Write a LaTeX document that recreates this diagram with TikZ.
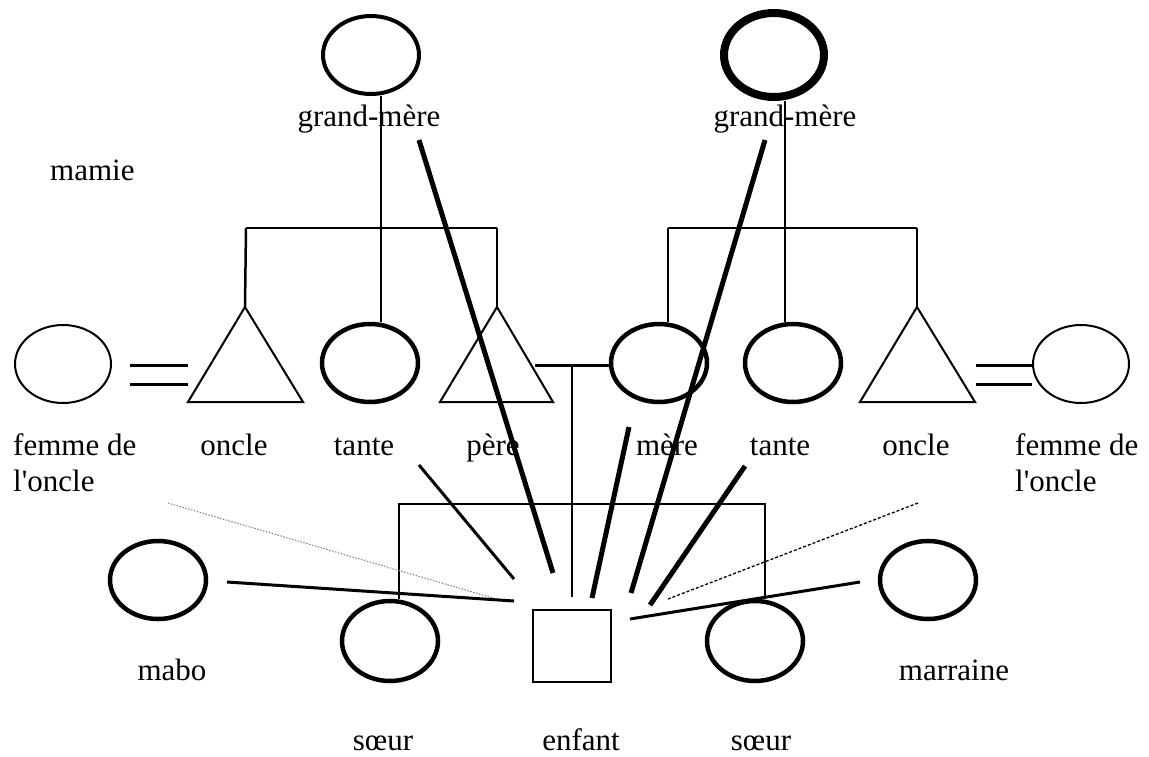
\documentclass[tikz,border=0pt]{standalone}
\usepackage{fontspec}
\newfontfamily\libserif{Liberation Serif}
\usetikzlibrary{shapes.geometric}
\begin{document}
\begin{tikzpicture}[x=1pt,y=-1pt,
  lbl/.style={anchor=base,inner sep=0pt,font=\libserif\fontsize{31}{36}\selectfont},
  lbll/.style={anchor=base west,inner sep=0pt,font=\libserif\fontsize{31}{36}\selectfont,align=left},
  person/.style={ellipse,draw,line width=4.5pt,inner sep=0pt,minimum width=96pt,minimum height=78pt},
  thinperson/.style={ellipse,draw,line width=2pt,inner sep=0pt,minimum width=96pt,minimum height=78pt},
  struct/.style={line width=2.5pt},
  thinshape/.style={line width=2pt,line join=miter},
  ray/.style={line width=5pt},
  midray/.style={line width=3pt}]
\useasboundingbox (0,0) rectangle (1149,756);

% grandmothers
\node[person,line width=4pt] (gmL) at (371,55) {};
\node[person,line width=8pt,minimum width=100pt,minimum height=84pt] (gmR) at (774,55) {};
\node[lbl] (tgmL) at (369,126) {grand-mère};
\node[lbl] (tgmR) at (785,126) {grand-mère};
\node[lbll] (tmamie) at (50,180) {mamie};

% parent row
\node[thinperson] (femL) at (63,364) {};
\node[person] (tanL) at (370,363) {};
\node[person] (mere) at (659,363) {};
\node[person] (tanR) at (793,363) {};
\node[thinperson] (femR) at (1081,364) {};

\coordinate (onLtop) at (245,307);
\draw[thinshape] (onLtop) -- (188,402) -- (303,402) -- cycle;
\coordinate (pereTop) at (497,307);
\draw[thinshape] (pereTop) -- (440,402) -- (553,402) -- cycle;
\coordinate (onRtop) at (917,307);
\draw[thinshape] (onRtop) -- (860,402) -- (975,402) -- cycle;

% equals
\draw[line width=3pt] (femL.east |- 0,365) ++(18,0) -- (188,365);
\draw[line width=3pt] (femL.east |- 0,384) ++(18,0) -- (188,384);
\draw[line width=3pt] (976,365) -- (femR.west |- 0,365);
\draw[line width=3pt] (976,384) -- (femR.west |- 0,384);

% left family tree
\coordinate (gL) at (381,228);
\coordinate (bLa) at (246,228);
\coordinate (bLc) at (497,228);
\draw[struct] (gmL.south -| gL) -- (gL |- tanL.north);
\draw[struct] (bLa) -- (bLc);
\draw[struct] (bLa) -- (onLtop);
\draw[struct] (bLc) -- (pereTop);

% right family tree
\coordinate (gR) at (785,228);
\coordinate (bRa) at (668,228);
\coordinate (bRc) at (917,228);
\draw[struct] (gmR.south -| gR) -- (gR |- tanR.north);
\draw[struct] (bRa) -- (bRc);
\draw[struct] (bRa) -- (bRa |- mere.north);
\draw[struct] (bRc) -- (onRtop);

% marriage
\coordinate (pereR) at (535,365);
\draw[line width=3pt] (pereR) -- (mere.west |- pereR);
\coordinate (descTop) at (572,367);
\coordinate (descBot) at (572,597);
\draw[line width=2pt] (descTop) -- (descBot);

% labels parent row
\node[lbll] (tfemL) at (13,491) {femme de\\l'oncle};
\node[lbl] (tonL) at (234,455) {oncle};
\node[lbl] (ttanL) at (364,455) {tante};
\node[lbl] (tpere) at (493,455) {père};
\node[lbl] (tmere) at (667,455) {mère};
\node[lbl] (ttanR) at (780,455) {tante};
\node[lbl] (tonR) at (916,455) {oncle};
\node[lbll] (tfemR) at (1015,491) {femme de\\l'oncle};

% bottom row
\node[person] (mabo) at (158,580) {};
\node[person] (marraine) at (928,580) {};
\node[person,minimum height=80pt] (soeurL) at (390,641) {};
\node[person,minimum height=80pt] (soeurR) at (755,641) {};
\node[draw,line width=2pt,minimum width=78pt,minimum height=72pt,inner sep=0pt] (enfant) at (572,646) {};

\node[lbl] (tmabo) at (172,680) {mabo};
\node[lbl] (tmarraine) at (954,680) {marraine};
\node[lbl] (tsoeurL) at (383,750) {sœur};
\node[lbl] (tenfant) at (581,750) {enfant};
\node[lbl] (tsoeurR) at (761,750) {sœur};

% siblings
\coordinate (sibL) at (399,504);
\coordinate (sibR) at (765,504);
\draw[struct] (sibL |- soeurL.north) -- (sibL) -- (sibR) -- (sibR |- soeurR.north);

% rays towards the child
\coordinate (rGmLa) at (419,140);  \coordinate (rGmLb) at (553,573);
\coordinate (rGmRa) at (765,140);  \coordinate (rGmRb) at (631,593);
\coordinate (rTanLa) at (419,465); \coordinate (rTanLb) at (514,579);
\coordinate (rMereA) at (629,427); \coordinate (rMereB) at (592,598);
\coordinate (rTanRa) at (745,466); \coordinate (rTanRb) at (650,605);
\coordinate (rOnRa) at (918,503);  \coordinate (rOnRb) at (668,599);
\coordinate (rFemLa) at (168,503); \coordinate (rFemLb) at (493,598);
\coordinate (rMaboA) at (227,582); \coordinate (rMaboB) at (514,601);
\coordinate (rMarA) at (860,582);  \coordinate (rMarB) at (630,619);

\draw[ray] (rGmLa) -- (rGmLb);
\draw[ray] (rGmRa) -- (rGmRb);
\draw[midray] (rTanLa) -- (rTanLb);
\draw[ray] (rMereA) -- (rMereB);
\draw[ray] (rTanRa) -- (rTanRb);
\draw[line width=1.3pt,dash pattern=on 3pt off 2pt] (rOnRa) -- (rOnRb);
\draw[line width=1pt,gray,dash pattern=on 1.5pt off 1.5pt] (rFemLa) -- (rFemLb);
\draw[midray] (rMaboA) -- (rMaboB);
\draw[midray] (rMarA) -- (rMarB);
\end{tikzpicture}
\end{document}
